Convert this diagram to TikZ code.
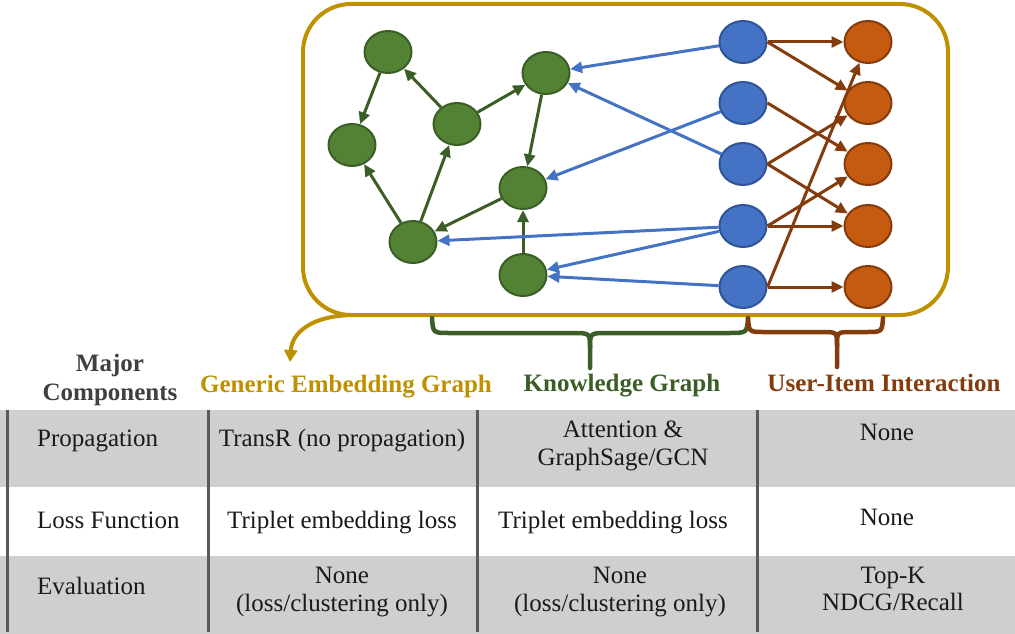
\documentclass[tikz,border=0pt]{standalone}
\usepackage{fontspec}
\setmainfont{Liberation Serif}
\usetikzlibrary{arrows.meta,shapes.geometric}

\definecolor{gold}{HTML}{BF9000}
\definecolor{gfill}{HTML}{548235}
\definecolor{gline}{HTML}{3B5E27}
\definecolor{bfill}{HTML}{4472C4}
\definecolor{bline}{HTML}{2F5597}
\definecolor{ofill}{HTML}{C55A11}
\definecolor{oline}{HTML}{843C0C}
\definecolor{cellgray}{HTML}{D0CECE}
\definecolor{rulegray}{HTML}{595959}
\definecolor{headgray}{HTML}{404040}
\definecolor{bodytext}{HTML}{1A1A1A}

\tikzset{
  dot/.style={ellipse, minimum width=47pt, minimum height=42pt, inner sep=0pt, line width=2pt},
  gnode/.style={dot, fill=gfill, draw=gline},
  bnode/.style={dot, fill=bfill, draw=bline},
  onode/.style={dot, fill=ofill, draw=oline},
  tip/.style={-{Triangle[length=12pt,width=11pt]}},
  gedge/.style={tip, draw=gline, fill=gline, line width=3pt},
  bedge/.style={tip, draw=bfill, fill=bfill, line width=3pt},
  oedge/.style={tip, draw=oline, fill=oline, line width=3pt},
  brace/.style={line width=4.5pt, line cap=round},
  label/.style={font=\fontsize{25}{28}\selectfont\bfseries, anchor=base, inner sep=0pt},
  cell/.style={font=\fontsize{25}{28}\selectfont, text=bodytext, anchor=base, inner sep=0pt},
  rowhead/.style={cell, anchor=base west},
}

\begin{document}
\begin{tikzpicture}[x=1pt,y=-1pt]
\useasboundingbox (0,0) rectangle (1015,634);

% framing box around the graphs
\draw[gold, line width=4pt, rounded corners=48pt] (303,4) rectangle (948,315);

% knowledge graph (green)
\node[gnode] (g1) at (388,52) {};
\node[gnode] (g2) at (352,145) {};
\node[gnode] (g3) at (457,124) {};
\node[gnode] (g4) at (546,73) {};
\node[gnode] (g5) at (523,188) {};
\node[gnode] (g6) at (413,242) {};
\node[gnode] (g7) at (523,275) {};

% users (blue) and items (orange)
\foreach \i/\y in {1/42,2/103,3/164,4/226,5/287}{
  \node[bnode] (b\i) at (743,\y) {};
  \node[onode] (o\i) at (868,\y) {};
}

% knowledge graph edges
\draw[gedge] (g1) -- (g2);
\draw[gedge] (g3) -- (g1);
\draw[gedge] (g3) -- (g4);
\draw[gedge] (g4) -- (g5);
\draw[gedge] (g5) -- (g6);
\draw[gedge] (g6) -- (g2);
\draw[gedge] (g6) -- (g3);
\draw[gedge] (g7) -- (g5);

% user to entity links
\draw[bedge] (b1) -- (g4);
\draw[bedge] (b2) -- (g5);
\draw[bedge] (b3) -- (g4);
\draw[bedge] (b4) -- (g6);
\draw[bedge] (b4) -- (g7);
\draw[bedge] (b5) -- (g7);

% user-item interactions
\draw[oedge] (b1.east) -- (o1);
\draw[oedge] (b1.east) -- (o2);
\draw[oedge] (b2.east) -- (o3);
\draw[oedge] (b3.east) -- (o2);
\draw[oedge] (b3.east) -- (o4);
\draw[oedge] (b4.east) -- (o3);
\draw[oedge] (b4.east) -- (o4);
\draw[oedge] (b5.east) -- (o1);
\draw[oedge] (b5.east) -- (o5);

% column labels
\node[label, text=headgray] (lmaj1) at (110,371) {Major};
\node[label, text=headgray] (lmaj2) at (110,400) {Components};
\node[label, text=gold] (lgen) at (346,392) {Generic Embedding Graph};
\node[label, text=gline] (lkg) at (622,391) {Knowledge Graph};
\node[label, text=oline] (lui) at (884,391) {User-Item Interaction};

% gold pointer from the box to its label
\draw[gold, line width=4pt, -{Triangle[length=12pt,width=13pt]}]
  (352,315) .. controls (312,316) and (292,332) .. (290,362);

% green brace
\draw[gline, brace]
  (432,318) .. controls (433,333) .. (450,333) -- (572,333)
  .. controls (590,333) .. (590,348) -- (590,368);
\draw[gline, brace]
  (748,318) .. controls (747,333) .. (728,333) -- (608,333)
  .. controls (590,333) .. (590,348);

% brown brace
\draw[oline, brace]
  (748,318) .. controls (749,332) .. (764,332) -- (822,332)
  .. controls (837,332) .. (837,346) -- (837,367);
\draw[oline, brace]
  (883,318) .. controls (882,332) .. (866,332) -- (852,332)
  .. controls (837,332) .. (837,346);

% table background
\fill[cellgray] (0,410) rectangle (1015,487);
\fill[white] (0,487) rectangle (1015,556);
\fill[cellgray] (0,556) rectangle (1015,634);
\foreach \x in {7,208,477,757}
  \draw[rulegray, line width=3pt] (\x,410) -- (\x,632);

% table text, row 1
\node[rowhead] (r1) at (37,446) {Propagation};
\node[cell] (c12) at (342,446) {TransR (no propagation)};
\node[cell] (c13a) at (623,437) {Attention \&};
\node[cell] (c13b) at (623,465) {GraphSage/GCN};
\node[cell] (c14) at (887,440) {None};

% row 2
\node[rowhead] (r2) at (37,528) {Loss Function};
\node[cell] (c22) at (342,528) {Triplet embedding loss};
\node[cell] (c23) at (613,528) {Triplet embedding loss};
\node[cell] (c24) at (887,525) {None};

% row 3
\node[rowhead] (r3) at (37,594) {Evaluation};
\node[cell] (c32a) at (342,583) {None};
\node[cell] (c32b) at (342,611) {(loss/clustering only)};
\node[cell] (c33a) at (620,583) {None};
\node[cell] (c33b) at (620,611) {(loss/clustering only)};
\node[cell] (c34a) at (893,583) {Top-K};
\node[cell] (c34b) at (893,610) {NDCG/Recall};
\end{tikzpicture}
\end{document}
